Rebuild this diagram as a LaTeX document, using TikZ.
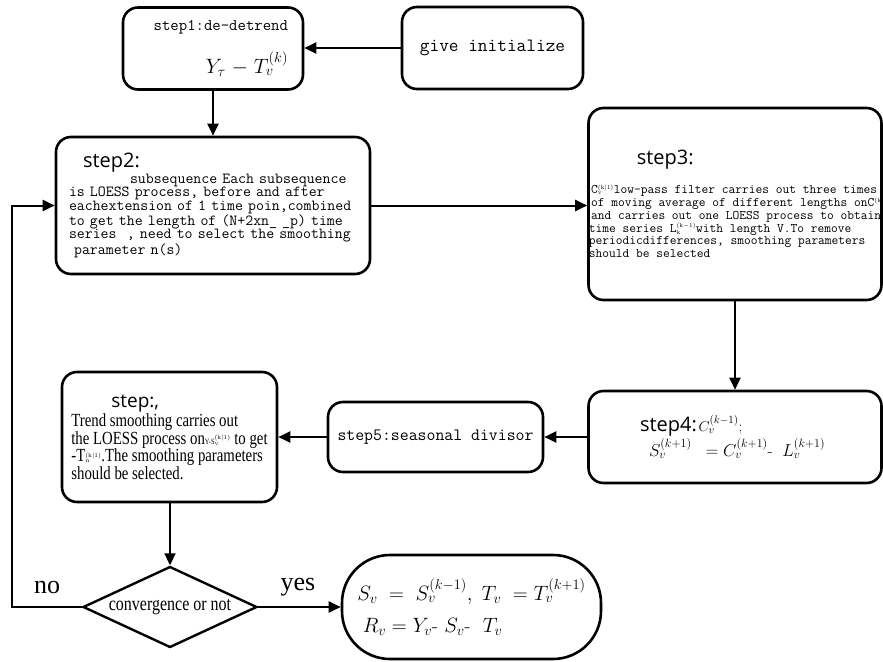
\documentclass[tikz,border=0pt]{standalone}
\usepackage{amsmath}
\usepackage{fontspec}
\usetikzlibrary{arrows.meta}
\usetikzlibrary{shapes.geometric}
\newfontfamily\stepfont{Open Sans}
\newfontfamily\narrowfont[FakeStretch=0.8]{Liberation Serif}
\newfontfamily\wordfont{Liberation Serif}
\tikzset{>={Triangle[length=12pt,width=11pt]}}
\tikzset{
	box/.style={draw, line width=2.6pt, rounded corners=15pt, inner sep=0pt},
	flow/.style={line width=2pt, ->},
	monotext/.style={font=\ttfamily\fontsize{#1}{#1}\selectfont}
}

\begin{document}
\begin{tikzpicture}[x=1pt,y=-1pt]
			\useasboundingbox (0,0) rectangle (883,661);
			\node[box, minimum width=180pt, minimum height=82pt, align=right, text width=150pt, monotext=16.3] (step1) at (213,48.5) {step1:de-detrend\\[16pt] {\fontsize{21}{21}\selectfont $Y_\tau\!-\!T_v^{(k)}$}};
			\node[box, minimum width=181pt, minimum height=82pt, monotext=18.8] (init) at (492.5,48) {give initialize};
			\node[box, minimum width=314pt, minimum height=137pt, align=left, text width=288pt, font=\ttfamily\fontsize{15.4}{13.6}\selectfont] (step2) at (213,205.5) {\hspace*{14pt}{\stepfont\fontsize{20}{20}\selectfont step2:}\\
				\hspace*{61pt}subsequence Each subsequence\\
				is LOESS process, before and after\\
				eachextension of 1 time poin,combined\\
				to get the length of (N+2xn\_ \_p) time\\
				series \ , need to select the smoothing\\
				\ parameter n(s)};
			\node[box, minimum width=293pt, minimum height=192pt, align=left, font=\ttfamily\fontsize{13.1}{12.8}\selectfont] (step3) at (735,204) {\hspace*{48pt}{\stepfont\fontsize{20}{20}\selectfont step3:}\\[14pt]
				\,C{\fontsize{9}{9}\selectfont$_{\mathrm{v}}^{\mathrm{(k|1)}}$}low-pass filter carries out three times\\
				\,of moving average of different lengths on\rlap{C{\fontsize{9}{9}\selectfont$^{\mathrm{(k}}$}}\\
				\,and carries out one LOESS process to obtain\\
				time series L{\fontsize{9}{9}\selectfont$_{\mathrm{k}}^{\mathrm{(k-1)}}$}with length V.To remove\\
				periodicdifferences, smoothing parameters\\
				should be selected};
			\node[box, minimum width=293pt, minimum height=92pt, align=left, text width=190pt] (step4) at (735,437) {{\stepfont\fontsize{20}{20}\selectfont step4:}\,{\fontsize{15}{15}\selectfont$C_v^{(k-1)}$;}\\[1pt]
				\hspace*{9pt}{\fontsize{17}{17}\selectfont$S_v^{(k+1)}\;\;= C_v^{(k+1)}\text{-}\;\;L_v^{(k+1)}$}};
			\node[box, minimum width=215pt, minimum height=70pt, monotext=17.3] (step5) at (435.5,437) {step5:seasonal divisor};
			\node[box, minimum width=215pt, minimum height=130pt, align=left, font=\narrowfont\fontsize{18.5}{17.5}\selectfont] (step6) at (169.5,437) {\hspace*{40pt}{\stepfont\fontsize{19}{19}\selectfont step:,}\\[2pt]
				Trend smoothing carries out\\
				the LOESS process on{\fontsize{8}{8}\selectfont Y-S$_{\mathrm{v}}^{\mathrm{(k|1)}}$} to get\\
				-T{\fontsize{8}{8}\selectfont$_{\mathrm{n}}^{\mathrm{(k|1)}}$}.The smoothing parameters\\
				should be selected.};
			\node[draw, diamond, line width=2.4pt, aspect=2.15, inner sep=0pt, minimum width=174pt, minimum height=81pt, font=\narrowfont\fontsize{20}{20}\selectfont] (conv) at (170,607) {convergence or not};
			\node[box, rounded corners=48pt, minimum width=259pt, minimum height=104pt, align=left, font=\fontsize{20}{32}\selectfont] (result) at (471.5,607) {$S_v\;=\;S_v^{(k-1)},\;T_v\;=T_v^{(k+1)}$\\
				\;$R_v = Y_v\text{-}\ S_v\text{-}\ \ T_v$};
			\node[font=\wordfont\fontsize{26}{26}\selectfont] (no) at (47,587) {no};
			\node[font=\wordfont\fontsize{26}{26}\selectfont] (yes) at (298,587) {yes};
			\coordinate (back) at (12,607);

			\draw[flow] (init.west) -- (init.west -| step1.east);
			\draw[flow] (step1) -- (step2);
			\draw[flow] (step2.east) -- (step2.east -| step3.west);
			\draw[flow] (step3) -- (step4);
			\draw[flow] (step4) -- (step5);
			\draw[flow] (step5) -- (step6);
			\draw[flow] (step6.south -| conv.north) -- (conv);
			\draw[flow] (conv) -- (result);
			\draw[flow] (conv.west) -- (back) |- (step2.west);
		\end{tikzpicture}
\end{document}
